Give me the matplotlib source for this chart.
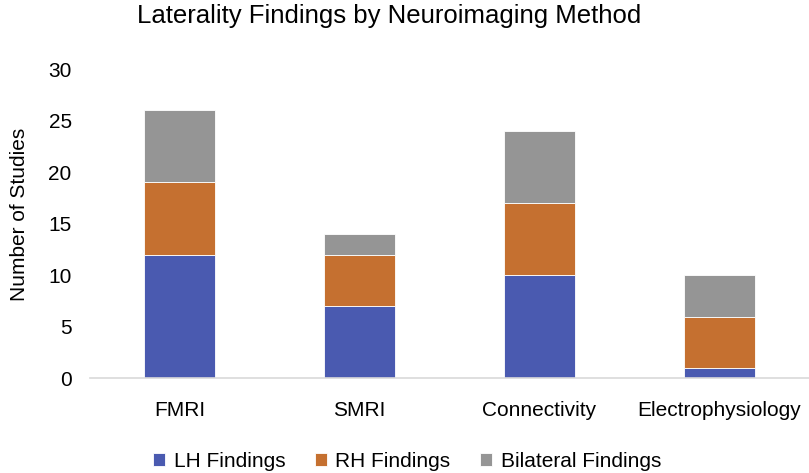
import matplotlib.pyplot as plt
import numpy as np

plt.rcParams['font.family'] = ['Liberation Sans', 'DejaVu Sans']

categories = ['FMRI', 'SMRI', 'Connectivity', 'Electrophysiology']
lh_findings = [12, 7, 10, 1]
rh_findings = [7, 5, 7, 5]
bilateral_findings = [7, 2, 7, 4]

x = np.arange(len(categories))
width = 0.395

fig = plt.figure(figsize=(8.09, 4.73), dpi=100)
ax = fig.add_axes([0.111, 0.2, 0.889, 0.654])

lh = np.array(lh_findings)
rh = np.array(rh_findings)
ax.bar(x, lh_findings, width, color='#4a5ab0', edgecolor='white', linewidth=0.6, label='LH Findings')
ax.bar(x, rh_findings, width, bottom=lh, color='#c57030', edgecolor='white', linewidth=0.6, label='RH Findings')
ax.bar(x, bilateral_findings, width, bottom=lh + rh, color='#959595', edgecolor='white', linewidth=0.6, label='Bilateral Findings')

ax.set_xlim(-0.5, 3.5)
ax.set_ylim(0, 30)
ax.set_yticks(range(0, 31, 5))
ax.set_xticks(x)
ax.set_xticklabels(categories)
ax.tick_params(length=0, labelsize=15, colors='black')
ax.tick_params(axis='x', pad=16)
ax.tick_params(axis='y', pad=13)
for s in ['top', 'right', 'left']:
    ax.spines[s].set_visible(False)
ax.spines['bottom'].set_color('#d9d9d9')
ax.spines['bottom'].set_linewidth(1.2)

ax.set_ylabel('Number of Studies', fontsize=15)
ax.yaxis.set_label_coords(-0.084, 0.53)
fig.text(0.481, 1 - 4 / 473, 'Laterality Findings by Neuroimaging Method', fontsize=18.5,
         ha='center', va='top')

fig.legend(loc='center', bbox_to_anchor=(0.503, 1 - 461 / 473), ncol=3, frameon=False,
           fontsize=15, handlelength=0.6, handleheight=0.6, handletextpad=0.4, columnspacing=1.4)

fig.savefig('out.png', dpi=100)
